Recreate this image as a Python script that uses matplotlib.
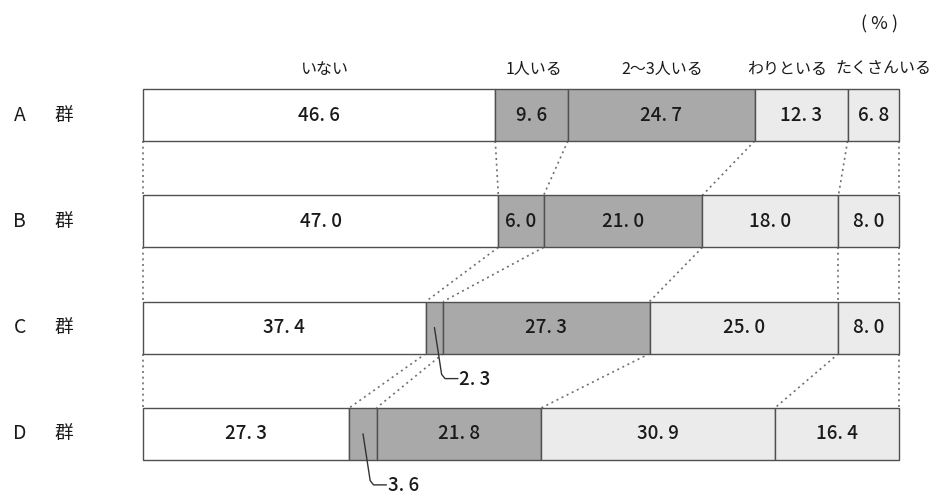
import matplotlib
matplotlib.use("Agg")
import matplotlib.pyplot as plt
import numpy as np

plt.rcParams['font.family'] = ['Noto Sans CJK JP', 'DejaVu Sans']

groups = ["A", "B", "C", "D"]
categories = ["いない", "1人いる", "2～3人いる", "わりといる", "たくさんいる"]
values = np.array([
    [46.6, 9.6, 24.7, 12.3, 6.8],
    [47.0, 6.0, 21.0, 18.0, 8.0],
    [37.4, 2.3, 27.3, 25.0, 8.0],
    [27.3, 3.6, 21.8, 30.9, 16.4],
])
# segments too narrow for an inside label get a leader line instead
small_labels = [(2, 1), (3, 1)]

fills = ["#ffffff", "#a9a9a9", "#a9a9a9", "#ebebeb", "#ebebeb"]
edge = "#505050"
text_color = "#1a1a1a"
bar_h = 0.49


def fmt(v):
    return f"{v:.1f}".replace(".", ". ")


fig = plt.figure(figsize=(9.36, 4.97), dpi=100)
ax = fig.add_axes([0, 0, 1, 1])
ax.set_xlim(-18.92, 104.9)
ax.set_ylim(3.594, -1.082)
ax.axis("off")

cums = np.hstack([np.zeros((len(groups), 1)), np.cumsum(values, axis=1)])

for i, g in enumerate(groups):
    ax.barh(i, values[i], left=cums[i, :-1], height=bar_h, color=fills,
            edgecolor=edge, linewidth=1.0, zorder=2)
    for j, v in enumerate(values[i]):
        if (i, j) in small_labels:
            continue
        cx = cums[i, j] + v / 2
        ax.text(cx, i, fmt(v), ha="center", va="center", fontsize=13.5,
                color=text_color, fontweight="medium", zorder=3)
    # group label
    ax.text(-16.3, i, g, ha="center", va="center", fontsize=14,
            color=text_color)
    ax.text(-10.5, i, "群", ha="center", va="center", fontsize=13.5,
            color=text_color)

# dotted connectors between matching boundaries of adjacent bars
for i in range(len(groups) - 1):
    for k in range(cums.shape[1]):
        ax.plot([cums[i, k], cums[i + 1, k]],
                [i + bar_h / 2, i + 1 - bar_h / 2],
                linestyle=(0, (1.2, 2.2)), color="#707070", linewidth=1.2,
                zorder=1)

# leader lines for narrow segments
for (i, j) in small_labels:
    v = values[i, j]
    mid = cums[i, j] + v / 2
    xs = [mid, mid + 0.95, mid + 1.4, mid + 3.1]
    ys = [i + 0.0, i + 0.44, i + 0.48, i + 0.48]
    ax.plot(xs, ys, color="#333333", linewidth=1.0, zorder=4,
            solid_capstyle="round")
    ax.text(mid + 3.3, i + 0.49, fmt(v), ha="left", va="center",
            fontsize=13.5, color=text_color, fontweight="medium")

# category headers above the first bar
header_shift = [0.8, 0.3, 0.1, -1.9, 1.4]
for j, c in enumerate(categories):
    cx = cums[0, j] + values[0, j] / 2 + header_shift[j]
    ax.text(cx, -0.43, c, ha="center", va="center", fontsize=11.5,
            color=text_color)

ax.text(99.9, -0.85, "( % )", ha="right", va="center", fontsize=13,
        color=text_color)

fig.savefig("out.png", dpi=100, facecolor="white")
